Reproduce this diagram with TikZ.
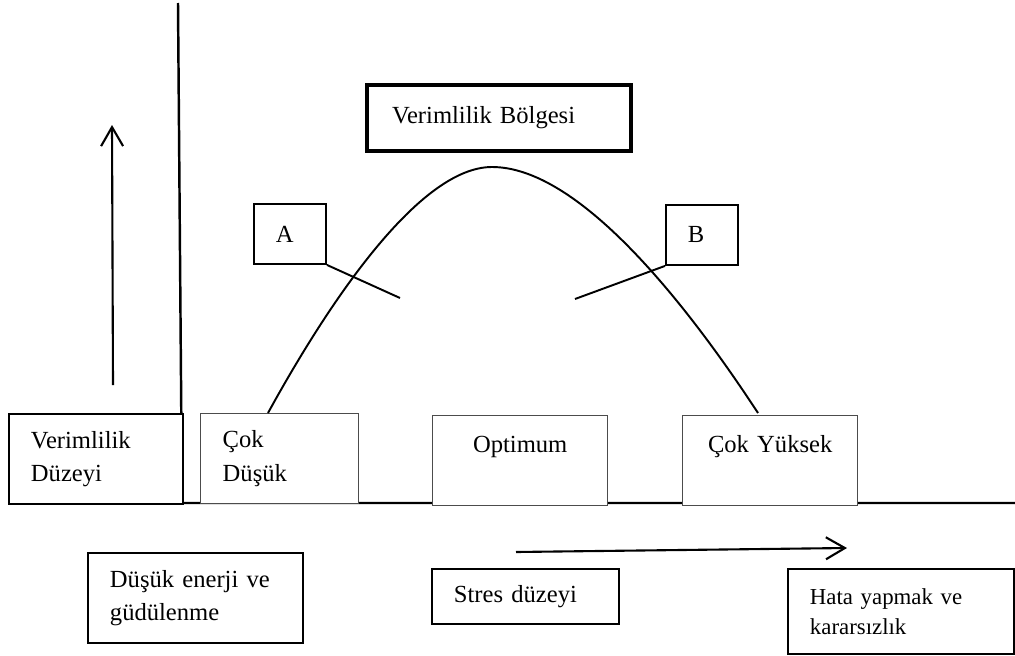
\documentclass[tikz,border=0pt]{standalone}
\usepackage{fontspec}
\setmainfont{Liberation Serif}
\usepackage{tikz}
\usetikzlibrary{arrows.meta}

\begin{document}
\begin{tikzpicture}[x=0.02cm,y=-0.02cm,
  kutu/.style={draw,line width=1.1pt,fill=white,anchor=north west,align=left,
    inner xsep=0.44cm,inner ysep=0pt,font=\fontsize{14}{19}\selectfont},
  gri/.style={kutu,draw=black!70,line width=0.8pt},
  ok/.style={line width=1.2pt,-{Straight Barb[length=3.8mm,width=4.4mm]}}]

  \useasboundingbox (0,0) rectangle (1015,656);

  % eksenler
  \coordinate (ustuc) at (178,3);
  \coordinate (kose) at (182,503);
  \coordinate (sagu) at (1015,503);
  \draw [line width=1.4pt] (ustuc) -- (kose) -- (sagu);

  \node [kutu,text width=2.6cm,minimum height=1.8cm] (verdz) at (8,413) {Verimlilik\\Düzeyi};
  \node [gri,text width=2.28cm,minimum height=1.8cm] (cokdusuk) at (200,413) {Çok\\Düşük};
  \node [gri,text width=2.62cm,minimum height=1.8cm,align=center] (optimum) at (432,415) {Optimum\\\mbox{}};
  \node [gri,text width=2.62cm,minimum height=1.8cm,align=center] (cokyuksek) at (682,415) {Çok Yüksek\\\mbox{}};

  \node [kutu,line width=2.3pt,inner xsep=0.5cm,text width=4.28cm,minimum height=1.32cm] (bolge) at (365,83) {Verimlilik Bölgesi};
  \node [kutu,text width=0.56cm,minimum height=1.2cm] (A) at (253,203) {A};
  \node [kutu,text width=0.56cm,minimum height=1.2cm] (B) at (665,204) {B};

  \node [kutu,text width=3.42cm,minimum height=1.8cm] (dusuk) at (87,552) {Düşük enerji ve\\güdülenme};
  \node [kutu,text width=2.86cm,minimum height=1.1cm] (stres) at (431,568) {Stres düzeyi};
  \node [kutu,text width=3.64cm,minimum height=1.7cm,font=\fontsize{13}{17}\selectfont] (hata) at (787,568) {Hata yapmak ve\\kararsızlık};

  % egri
  \coordinate (sol) at (268,413);
  \coordinate (tepe) at (492,167);
  \coordinate (sag) at (758,413);
  \draw [line width=1.1pt] (sol) .. controls (330,300) and (420,167) .. (tepe)
    .. controls (578,167) and (684,300) .. (sag);

  \coordinate (aucu) at (400,298);
  \coordinate (bucu) at (575,299);
  \draw [line width=1.1pt] (A.south east) -- (aucu);
  \draw [line width=1.1pt] (B.south west) -- (bucu);

  % oklar
  \coordinate (yalt) at (113,385);
  \coordinate (yust) at (112,125);
  \draw [ok] (yalt) -- (yust);
  \coordinate (xbas) at (516,552);
  \coordinate (xson) at (847,548);
  \draw [ok] (xbas) -- (xson);

\end{tikzpicture}
\end{document}
